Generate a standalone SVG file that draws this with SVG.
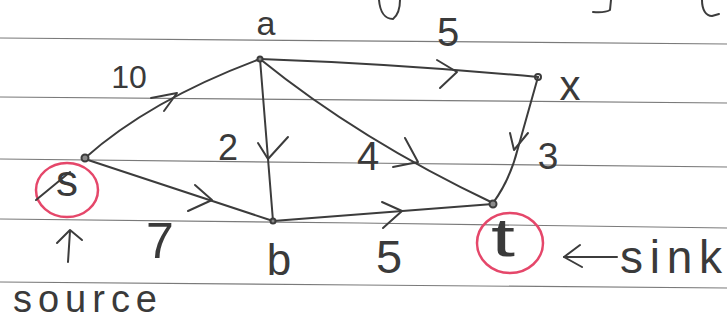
<svg xmlns="http://www.w3.org/2000/svg" width="727" height="322" viewBox="0 0 727 322">
<style>
.rule{stroke:#7a7a7a;stroke-width:1.2;fill:none}
.ink{stroke:#3c3c3c;stroke-width:2;fill:none;stroke-linecap:round;stroke-linejoin:round}
.dot{stroke:#3c3c3c;stroke-width:2;fill:#8a8a8a}
.red{stroke:#e5476a;stroke-width:2.5;fill:none}
text{font-family:"Liberation Sans","DejaVu Sans",sans-serif;fill:#3a3a3a;text-anchor:middle}
</style>
<rect width="727" height="322" fill="#ffffff"/>
<g id="paper">
<path class="rule" d="M0,38 L727,44"/>
<path class="rule" d="M0,97 L727,103"/>
<path class="rule" d="M0,159 L360,163 L727,167"/>
<path class="rule" d="M0,219 L360,223 L727,228"/>
<path class="rule" d="M0,282 L360,285 L727,288"/>
<path class="ink" d="M379,0 C380,12 385,19 393,19 C398,15 400,8 400,0"/>
<path class="ink" d="M611,0 L610,10 Q605,13 593,12"/>
<path class="ink" d="M702,0 C702,10 706,16 712,16 L719,14"/>
</g>
<g id="connectors">
<path class="ink" d="M85,158 Q150,100 260,59"/>
<path class="ink" d="M151,98 L177,93 L164,111"/>
<path class="ink" d="M85,159 L273,221"/>
<path class="ink" d="M195,185 L212,200 L188,211"/>
<path class="ink" d="M260,59 L273,221"/>
<path class="ink" d="M258,143 L268,159 L288,137"/>
<path class="ink" d="M260,59 Q400,64 538,77"/>
<path class="ink" d="M437,60 L457,72 L440,88"/>
<path class="ink" d="M260,59 Q360,140 493,203"/>
<path class="ink" d="M405,138 L418,162 L393,167"/>
<path class="ink" d="M538,77 L518,148 Q510,180 493,203"/>
<path class="ink" d="M510,133 L514,150 L528,133"/>
<path class="ink" d="M273,221 Q390,212 493,204"/>
<path class="ink" d="M382,202 L402,211 L383,228"/>
<text x="129" y="88" font-size="32">10</text>
<text x="448" y="46" font-size="40">5</text>
<text x="228" y="160" font-size="36">2</text>
<text x="368" y="170" font-size="40">4</text>
<text x="548" y="169" font-size="37">3</text>
<text x="160" y="258" font-size="50">7</text>
<text x="389" y="273" font-size="47">5</text>
</g>
<g id="node-s">
<circle class="dot" cx="85" cy="158" r="3.5"/>
<ellipse class="red" cx="67" cy="190" rx="31" ry="27"/>
<path class="ink" d="M36,200 L70,172"/>
<text x="67" y="196" font-size="44">s</text>
</g>
<g id="node-a">
<circle class="dot" cx="260" cy="59" r="2.5"/>
<text x="266" y="35" font-size="34">a</text>
</g>
<g id="node-x">
<circle class="ink" cx="538" cy="77" r="3" fill="#fff"/>
<text x="570" y="100" font-size="42">x</text>
</g>
<g id="node-b">
<circle class="dot" cx="273" cy="221" r="2.5"/>
<text x="279" y="275" font-size="44">b</text>
</g>
<g id="node-t">
<circle class="dot" cx="493" cy="204" r="3.5"/>
<ellipse class="red" cx="510" cy="243" rx="33" ry="30"/>
<text x="503" y="256" font-size="54" textLength="24" lengthAdjust="spacingAndGlyphs">t</text>
</g>
<g id="annotations">
<path class="ink" d="M68,262 L70,231"/>
<path class="ink" d="M57,243 L70,230 L82,240"/>
<text x="13" y="312" font-size="38" style="text-anchor:start" textLength="144" lengthAdjust="spacing">source</text>
<path class="ink" d="M564,257 L617,257"/>
<path class="ink" d="M580,245 L564,257 L582,267"/>
<text x="620" y="273" font-size="46" style="text-anchor:start" textLength="102" lengthAdjust="spacing">sink</text>
</g>
</svg>
